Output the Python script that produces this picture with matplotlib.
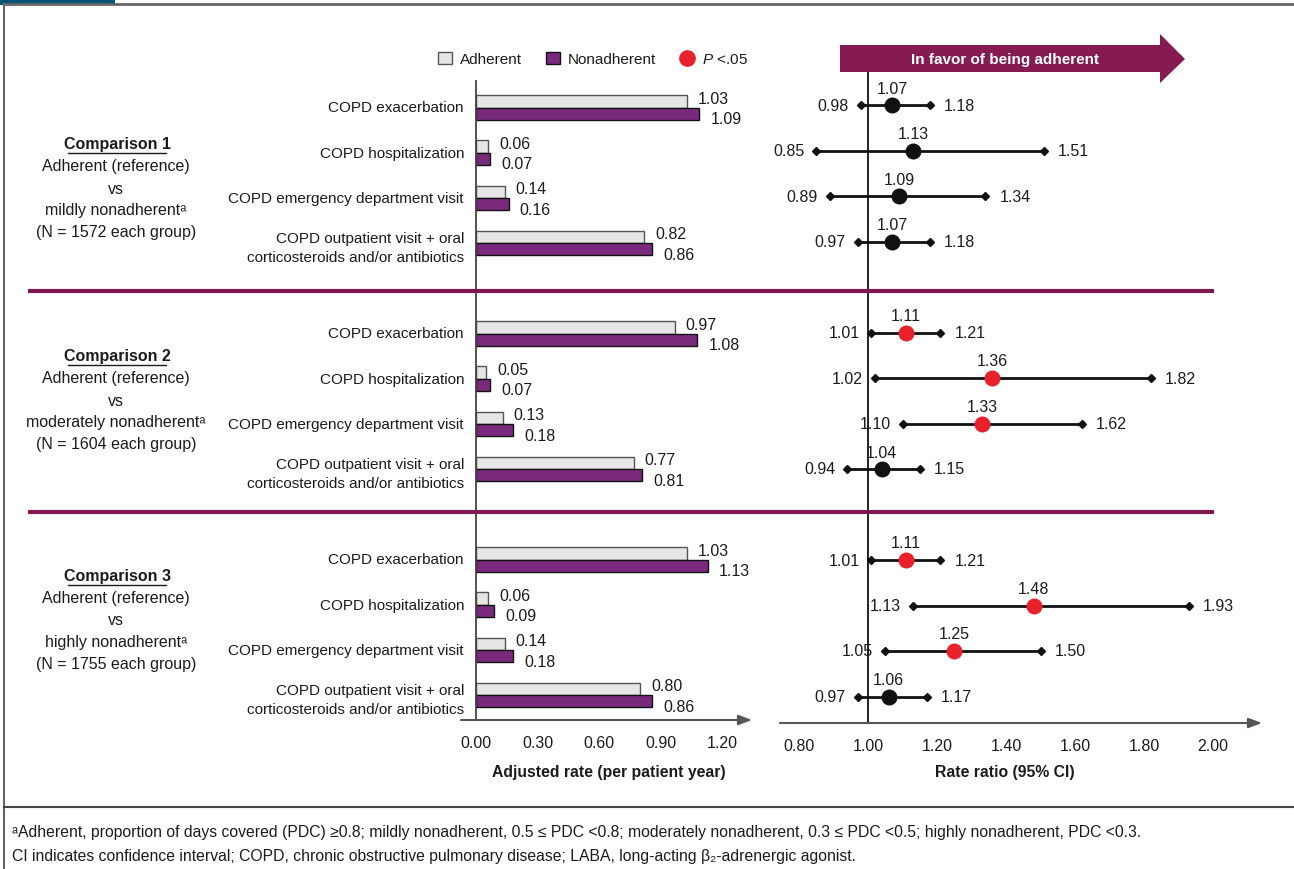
import matplotlib
matplotlib.use("Agg")
import matplotlib.pyplot as plt
from matplotlib.patches import Patch, Polygon, Rectangle
from matplotlib.lines import Line2D

plt.rcParams['font.family'] = ['Liberation Sans', 'DejaVu Sans']
plt.rcParams['mathtext.fontset'] = 'custom'
plt.rcParams['mathtext.it'] = 'Liberation Sans:italic'
plt.rcParams['mathtext.rm'] = 'Liberation Sans'

# ---- data ----
outcomes = ["COPD exacerbation", "COPD hospitalization",
            "COPD emergency department visit",
            "COPD outpatient visit + oral\ncorticosteroids and/or antibiotics"]
comparisons = ["Comparison 1", "Comparison 2", "Comparison 3"]
group_desc = ["mildly nonadherent\u1d43", "moderately nonadherent\u1d43", "highly nonadherent\u1d43"]
group_n = [1572, 1604, 1755]

adherent = [[1.03, 0.06, 0.14, 0.82],
            [0.97, 0.05, 0.13, 0.77],
            [1.03, 0.06, 0.14, 0.80]]
nonadherent = [[1.09, 0.07, 0.16, 0.86],
               [1.08, 0.07, 0.18, 0.81],
               [1.13, 0.09, 0.18, 0.86]]
rr = [[1.07, 1.13, 1.09, 1.07],
      [1.11, 1.36, 1.33, 1.04],
      [1.11, 1.48, 1.25, 1.06]]
rr_lo = [[0.98, 0.85, 0.89, 0.97],
         [1.01, 1.02, 1.10, 0.94],
         [1.01, 1.13, 1.05, 0.97]]
rr_hi = [[1.18, 1.51, 1.34, 1.18],
         [1.21, 1.82, 1.62, 1.15],
         [1.21, 1.93, 1.50, 1.17]]
significant = [[False, False, False, False],
               [True, True, True, False],
               [True, True, True, False]]

bar_ticks = [0.0, 0.3, 0.6, 0.9, 1.2]
rr_ticks = [0.8, 1.0, 1.2, 1.4, 1.6, 1.8, 2.0]

# ---- colours ----
c_adh = "#e6e6e6"
c_non = "#7a2a7d"
c_sig = "#e8212a"
c_line = "#7d1a52"
c_txt = "#1e1a1b"
fs = 11

W, H = 1294, 870
fig = plt.figure(figsize=(W / 100, H / 100), dpi=100)


def fx(px):
    return px / W


def fy(py):
    return 1 - py / H


# frame
fig.add_artist(Line2D([fx(4), fx(4)], [fy(5), fy(870)], color="#666666", lw=1.5))
fig.add_artist(Line2D([fx(4), fx(1294)], [fy(5), fy(5)], color="#666666", lw=2))
fig.add_artist(Line2D([fx(4), fx(1294)], [fy(808), fy(808)], color="#444444", lw=1.5))
fig.add_artist(Rectangle((0, fy(6)), fx(115), 6 / H, color="#005577", lw=0))

# row positions: 4 rows per comparison, gap of one row between groups
pos = [[g * 5 + r for r in range(4)] for g in range(3)]
bh = 0.27

# ---- bar panel ----
axb = fig.add_axes([fx(461), fy(721), fx(752) - fx(461), (721 - 82) / H])
axb.set_xlim(-15 / 205, 276 / 205)
axb.set_ylim((721 - 108.5) / 45.2, (82 - 108.5) / 45.2)
for g in range(3):
    ya = [p - bh / 2 for p in pos[g]]
    yn = [p + bh / 2 for p in pos[g]]
    axb.barh(ya, adherent[g], height=bh, color=c_adh, edgecolor="#555555", lw=1)
    axb.barh(yn, nonadherent[g], height=bh, color=c_non, edgecolor="#111111", lw=1)
    for i in range(4):
        axb.annotate(f"{adherent[g][i]:.2f}", (adherent[g][i], ya[i]), xytext=(11, 3),
                     textcoords="offset pixels", ha="left", va="center",
                     fontsize=fs + 0.5, color=c_txt)
        axb.annotate(f"{nonadherent[g][i]:.2f}", (nonadherent[g][i], yn[i]), xytext=(11, -5),
                     textcoords="offset pixels", ha="left", va="center",
                     fontsize=fs + 0.5, color=c_txt)
        axb.annotate(outcomes[i], (0, pos[g][i]), xytext=(-12, 0 if i < 3 else -4),
                     textcoords="offset pixels", ha="right", va="center",
                     fontsize=fs, color=c_txt, linespacing=1.45)
for s in ["top", "right", "bottom"]:
    axb.spines[s].set_visible(False)
axb.spines["left"].set_position(("data", 0))
axb.spines["left"].set_color("#444444")
axb.spines["left"].set_linewidth(1.3)
axb.set_yticks([])
axb.set_xticks(bar_ticks)
axb.set_xticklabels([f"{t:.2f}" for t in bar_ticks])
axb.tick_params(axis="x", length=0, pad=11, labelsize=fs + 0.5, labelcolor=c_txt)
axb.annotate("", xy=(1, 0), xytext=(0, 0), xycoords="axes fraction",
             arrowprops=dict(arrowstyle="-|>,head_length=0.8,head_width=0.3",
                             color="#555555", lw=1.5, shrinkA=0, shrinkB=0))
axb.set_xlabel("Adjusted rate (per patient year)", fontsize=fs + 0.3, fontweight="bold",
               color=c_txt, labelpad=10)
axb.xaxis.label.set_x((476 + 133 - 461) / 291)

# ---- forest panel ----
axf = fig.add_axes([fx(780), fy(724), fx(1262) - fx(780), (724 - 70) / H])
axf.set_xlim(1 - 88 / 345, 1 + 394 / 345)
axf.set_ylim((724 - 106) / 45.5, (70 - 106) / 45.5)
for g in range(3):
    for i in range(4):
        y = pos[g][i]
        axf.plot([rr_lo[g][i], rr_hi[g][i]], [y, y], color="#111111", lw=2, zorder=2)
        axf.plot([rr_lo[g][i], rr_hi[g][i]], [y, y], ls="none", marker="D", ms=4.5,
                 color="#111111", zorder=3)
        axf.plot(rr[g][i], y, "o", ms=10.5, color=c_sig if significant[g][i] else "#111111",
                 zorder=4)
        axf.annotate(f"{rr[g][i]:.2f}", (rr[g][i], y), xytext=(0, 17), textcoords="offset pixels",
                     ha="center", va="center", fontsize=fs + 0.5, color=c_txt)
        axf.annotate(f"{rr_lo[g][i]:.2f}", (rr_lo[g][i], y), xytext=(-12, 0),
                     textcoords="offset pixels", ha="right", va="center",
                     fontsize=fs + 0.5, color=c_txt)
        axf.annotate(f"{rr_hi[g][i]:.2f}", (rr_hi[g][i], y), xytext=(14, 0),
                     textcoords="offset pixels", ha="left", va="center",
                     fontsize=fs + 0.5, color=c_txt)
for s in ["top", "right", "bottom"]:
    axf.spines[s].set_visible(False)
axf.spines["left"].set_position(("data", 1.0))
axf.spines["left"].set_color("#111111")
axf.spines["left"].set_linewidth(1.3)
axf.set_yticks([])
axf.set_xticks(rr_ticks)
axf.set_xticklabels([f"{t:.2f}" for t in rr_ticks])
axf.tick_params(axis="x", length=0, pad=11, labelsize=fs + 0.5, labelcolor=c_txt)
axf.annotate("", xy=(1, 0), xytext=(0, 0), xycoords="axes fraction",
             arrowprops=dict(arrowstyle="-|>,head_length=0.8,head_width=0.3",
                             color="#555555", lw=1.5, shrinkA=0, shrinkB=0))
axf.set_xlabel("Rate ratio (95% CI)", fontsize=fs + 0.3, fontweight="bold", color=c_txt,
               labelpad=8)
axf.xaxis.label.set_x((1005 - 780) / 482)

# banner arrow
banner = [(840, 46), (1160, 46), (1160, 35), (1185, 60), (1160, 84), (1160, 73), (840, 73)]
fig.add_artist(Polygon([(fx(x), fy(y)) for x, y in banner], closed=True,
                       facecolor="#861b54", edgecolor="none"))
fig.text(fx(1005), fy(60), "In favor of being adherent", ha="center", va="center",
         fontsize=fs, fontweight="bold", color="white")

# legend
handles = [Patch(facecolor=c_adh, edgecolor="#555555", lw=1),
           Patch(facecolor=c_non, edgecolor="#111111", lw=1),
           Line2D([], [], ls="none", marker="o", ms=11, color=c_sig)]
fig.legend(handles, ["Adherent", "Nonadherent", "$P$ <.05"], ncol=3, frameon=False,
           loc="center", bbox_to_anchor=(fx(593), fy(60)), fontsize=fs,
           handlelength=0.9, handleheight=0.9, handletextpad=0.5, columnspacing=1.6,
           labelcolor=c_txt)

# group descriptions
title_y = [145, 357, 577]
for g in range(3):
    y0 = title_y[g]
    fig.text(fx(117), fy(y0), comparisons[g], ha="center", va="center", fontsize=fs + 0.5,
             fontweight="bold", color=c_txt)
    fig.add_artist(Line2D([fx(68), fx(166)], [fy(y0 + 9), fy(y0 + 9)], color=c_txt, lw=1))
    lines = ["Adherent (reference)", "vs", group_desc[g], f"(N = {group_n[g]} each group)"]
    for k, t in enumerate(lines):
        fig.text(fx(116), fy(y0 + 22 * (k + 1)), t, ha="center", va="center",
                 fontsize=fs + 0.5, color=c_txt)

# separators between comparisons
for yy in [292, 513]:
    fig.add_artist(Line2D([fx(30), fx(1212)], [fy(yy), fy(yy)], color=c_line, lw=3))

# footnotes
fig.text(fx(12), fy(833), "\u1d43Adherent, proportion of days covered (PDC) \u22650.8; mildly nonadherent, "
         "0.5 \u2264 PDC <0.8; moderately nonadherent, 0.3 \u2264 PDC <0.5; highly nonadherent, PDC <0.3.",
         ha="left", va="center", fontsize=11.3, color=c_txt)
fig.text(fx(12), fy(857), "CI indicates confidence interval; COPD, chronic obstructive pulmonary disease; "
         "LABA, long-acting \u03b2\u2082-adrenergic agonist.",
         ha="left", va="center", fontsize=11.3, color=c_txt)

fig.savefig("out.png", dpi=100)
